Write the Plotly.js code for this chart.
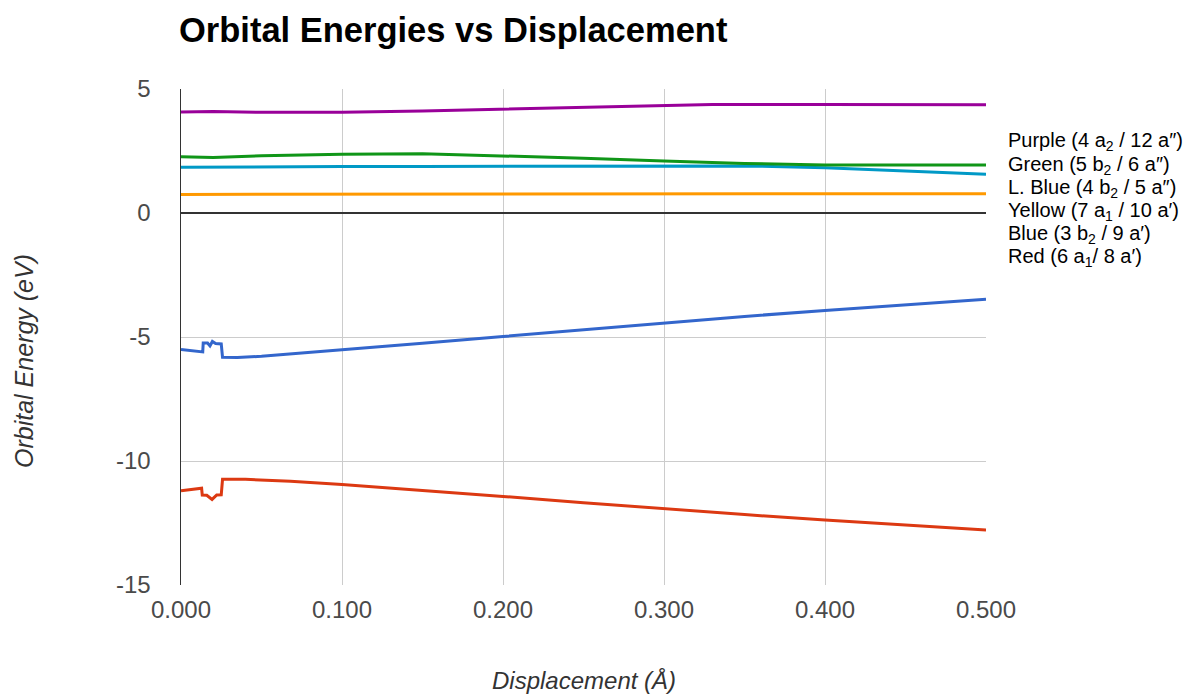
<!DOCTYPE html>
<html>
<head>
<meta charset="utf-8">
<script src="https://cdn.plot.ly/plotly-3.0.1.min.js"></script>
<style>html,body{margin:0;padding:0;background:#fff;}#chart{width:1195px;height:696px;}</style>
</head>
<body>
<div id="chart"></div>
<script>
// Series data (Displacement in Å, Orbital energy in eV)
const purpleX = [0, 0.02, 0.05, 0.1, 0.15, 0.2, 0.25, 0.3, 0.33, 0.4, 0.45, 0.5];
const purpleY = [4.07, 4.09, 4.06, 4.06, 4.11, 4.18, 4.26, 4.33, 4.38, 4.38, 4.37, 4.36];

const greenX = [0, 0.02, 0.05, 0.1, 0.15, 0.2, 0.25, 0.3, 0.35, 0.4, 0.45, 0.5];
const greenY = [2.27, 2.24, 2.31, 2.37, 2.39, 2.31, 2.21, 2.10, 2.00, 1.94, 1.94, 1.94];

const lblueX = [0, 0.02, 0.05, 0.1, 0.15, 0.2, 0.25, 0.3, 0.35, 0.4, 0.45, 0.5];
const lblueY = [1.84, 1.85, 1.86, 1.88, 1.88, 1.88, 1.89, 1.90, 1.90, 1.82, 1.69, 1.56];

const yellowX = [0, 0.1, 0.2, 0.3, 0.4, 0.5];
const yellowY = [0.75, 0.75, 0.76, 0.78, 0.78, 0.78];

const blueX = [0, 0.005, 0.010, 0.0135, 0.0138, 0.0165, 0.0180, 0.0195, 0.0215, 0.0250, 0.0258, 0.035, 0.05, 0.068, 0.1, 0.15, 0.2, 0.25, 0.3, 0.35, 0.4, 0.45, 0.5];
const blueY = [-5.50, -5.53, -5.57, -5.60, -5.24, -5.24, -5.36, -5.18, -5.26, -5.28, -5.82, -5.83, -5.78, -5.68, -5.50, -5.25, -4.98, -4.70, -4.43, -4.17, -3.93, -3.70, -3.48];

const redX = [0, 0.006, 0.0128, 0.0132, 0.016, 0.0193, 0.0222, 0.0250, 0.0258, 0.04, 0.068, 0.1, 0.15, 0.2, 0.25, 0.3, 0.35, 0.4, 0.45, 0.5];
const redY = [-11.20, -11.16, -11.10, -11.37, -11.38, -11.55, -11.37, -11.36, -10.74, -10.74, -10.82, -10.95, -11.18, -11.43, -11.68, -11.93, -12.16, -12.38, -12.58, -12.78];

const legendLabels = [
  'Purple (4 a<sub>2</sub> / 12 a\u2033)',
  'Green (5 b<sub>2</sub> / 6 a\u2033)',
  'L. Blue (4 b<sub>2</sub> / 5 a\u2033)',
  'Yellow (7 a<sub>1</sub> / 10 a\u2032)',
  'Blue (3 b<sub>2</sub> / 9 a\u2032)',
  'Red (6 a<sub>1</sub>/ 8 a\u2032)'
];
const xTicks = [0, 0.1, 0.2, 0.3, 0.4, 0.5];
const yTicks = [-15, -10, -5, 0, 5];

const mk = (x, y, color) => ({x: x, y: y, type: 'scatter', mode: 'lines', line: {color: color, width: 3}, hoverinfo: 'skip', showlegend: false});
const traces = [
  mk(yellowX, yellowY, '#ff9900'),
  mk(lblueX, lblueY, '#0099c6'),
  mk(greenX, greenY, '#109618'),
  mk(purpleX, purpleY, '#990099'),
  mk(blueX, blueY, '#3366cc'),
  mk(redX, redY, '#dc3912')
];

const plotTop = 89, plotBottom = 585;
const legendY = [142, 165, 188, 211, 234, 257];
const annotations = legendLabels.map((t, i) => ({
  text: t, xref: 'paper', yref: 'paper',
  x: (1006 - 181) / 805, xanchor: 'left',
  y: (plotBottom - legendY[i]) / (plotBottom - plotTop), yanchor: 'middle',
  showarrow: false, font: {family: 'Liberation Sans, Arial, sans-serif', size: 20, color: '#000'}
}));
annotations.push({
  text: 'Orbital Energy (eV)', xref: 'paper', yref: 'paper',
  x: (24 - 181) / 805, y: (plotBottom - 361) / (plotBottom - plotTop),
  xanchor: 'center', yanchor: 'middle', textangle: -90, showarrow: false,
  font: {family: 'Liberation Sans, Arial, sans-serif', size: 25, color: '#333', style: 'italic'}
});
annotations.push({
  text: 'Displacement (Å)', xref: 'paper', yref: 'paper',
  x: (584 - 181) / 805, y: (plotBottom - 680) / (plotBottom - plotTop),
  xanchor: 'center', yanchor: 'middle', showarrow: false,
  font: {family: 'Liberation Sans, Arial, sans-serif', size: 24, color: '#333', style: 'italic'}
});

const layout = {
  width: 1195, height: 696,
  margin: {l: 181, r: 209, t: 89, b: 111, pad: 0},
  paper_bgcolor: '#fff', plot_bgcolor: '#fff',
  title: {
    text: '<b>Orbital Energies vs Displacement</b>',
    xref: 'container', yref: 'container',
    x: 179 / 1195, xanchor: 'left',
    y: 1 - 30 / 696, yanchor: 'middle',
    font: {family: 'Liberation Sans, Arial, sans-serif', size: 34.5, color: '#000'}
  },
  xaxis: {
    range: [0, 0.5], tickvals: xTicks, ticktext: xTicks.map(v => v.toFixed(3)),
    showgrid: true, gridcolor: '#cccccc', gridwidth: 1,
    zeroline: false, showline: false, ticks: '',
    ticklabelstandoff: 8,
    tickfont: {family: 'Liberation Sans, Arial, sans-serif', size: 24, color: '#4a4a4a'}
  },
  yaxis: {
    range: [-15, 5], tickvals: yTicks, ticktext: yTicks.map(String),
    showgrid: true, gridcolor: '#cccccc', gridwidth: 1,
    zeroline: true, zerolinecolor: '#333', zerolinewidth: 1.5,
    showline: true, linecolor: '#333', linewidth: 1.5,
    ticks: '', ticklabelstandoff: 24,
    tickfont: {family: 'Liberation Sans, Arial, sans-serif', size: 24, color: '#4a4a4a'}
  },
  annotations: annotations,
  showlegend: false
};

Plotly.newPlot('chart', traces, layout, {staticPlot: true, displayModeBar: false});
</script>
</body>
</html>
